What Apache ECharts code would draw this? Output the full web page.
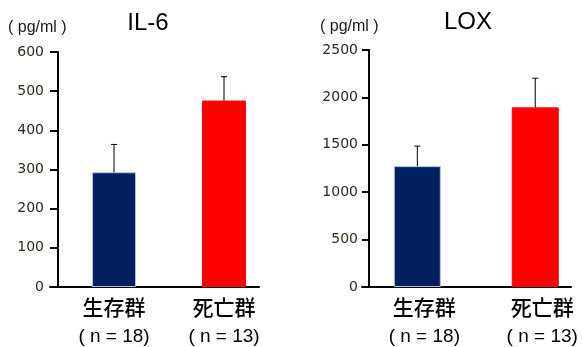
<!DOCTYPE html>
<html>
<head>
<meta charset="utf-8">
<script src="https://cdn.jsdelivr.net/npm/echarts@6/dist/echarts.min.js"></script>
<style>html,body{margin:0;padding:0;background:#fff;}#c{width:583px;height:347px;}</style>
</head>
<body>
<div id="c"></div>
<script>
// ---- data ----
const categories = ['生存群', '死亡群'];
const groupN = ['( n = 18)', '( n = 13)'];
const barColors = ['#002060', '#ff0000'];
const barBorders = ['#b4c2de', '#ff0000'];
const il6Mean = [293, 476];
const il6SD = [71, 61];
const loxMean = [1275, 1895];
const loxSD = [211, 307];
const il6Axis = { max: 600, interval: 100 };
const loxAxis = { max: 2500, interval: 500 };
const titles = ['IL-6', 'LOX'];
const unitLabel = '( pg/ml )';

const chart = echarts.init(document.getElementById('c'), null, { renderer: 'canvas' });

const latin = 'Liberation Sans, Arial, sans-serif';
const cjk = 'Noto Sans CJK JP, sans-serif';

function xAxisCfg(gi, min, max, pad) {
  return {
    gridIndex: gi, type: 'value', min: min, max: max,
    axisLine: { show: true, onZero: false, lineStyle: { color: '#000', width: 2 } },
    axisTick: { show: false },
    splitLine: { show: false },
    axisLabel: {
      customValues: [0, 1],
      margin: 6,
      padding: pad,
      formatter: function (v) {
        const i = Math.round(v);
        return '{a|' + categories[i] + '}\n{b|' + groupN[i] + '}';
      },
      rich: {
        a: { fontFamily: cjk, fontSize: 21, fontWeight: 500, lineHeight: 29, color: '#000' },
        b: { fontFamily: latin, fontSize: 19, lineHeight: 29, color: '#000' }
      }
    }
  };
}
function yAxisCfg(gi, ax, offset, margin, tickLen) {
  return {
    gridIndex: gi, type: 'value', min: 0, max: ax.max, interval: ax.interval,
    offset: offset,
    axisLine: { show: true, onZero: false, lineStyle: { color: '#000', width: 2 } },
    axisTick: { show: true, length: tickLen, lineStyle: { color: '#000', width: 2 } },
    splitLine: { show: false },
    axisLabel: { margin: margin, fontFamily: 'DejaVu Sans, sans-serif', fontSize: 14, color: '#33281c',
      formatter: function (v) { return String(v); } }
  };
}
function barSeries(gi, mean, width) {
  return {
    type: 'bar', xAxisIndex: gi, yAxisIndex: gi, barWidth: width,
    data: mean.map((m, i) => ({ value: [i, m], itemStyle: { color: barColors[i], borderColor: barBorders[i], borderWidth: 1 } })),
    silent: true, animation: false
  };
}
function errSeries(gi, mean, sd) {
  return {
    type: 'custom', xAxisIndex: gi, yAxisIndex: gi, silent: true, animation: false, z: 5,
    data: mean.map((m, i) => [i, m, m + sd[i]]),
    encode: { x: 0, y: [1, 2] },
    renderItem: function (params, api) {
      const p0 = api.coord([api.value(0), api.value(1)]);
      const p1 = api.coord([api.value(0), api.value(2)]);
      const cap = 3;
      return {
        type: 'group',
        children: [
          { type: 'line', shape: { x1: p0[0], y1: p0[1], x2: p1[0], y2: p1[1] }, style: { stroke: '#000', lineWidth: 1 } },
          { type: 'line', shape: { x1: p1[0] - cap, y1: p1[1], x2: p1[0] + cap, y2: p1[1] }, style: { stroke: '#000', lineWidth: 1 } }
        ]
      };
    }
  };
}

chart.setOption({
  animation: false,
  grid: [
    { left: 50, width: 209, top: 52, height: 235 },
    { left: 362, width: 209, top: 50, height: 237 }
  ],
  xAxis: [
    xAxisCfg(0, -0.582, 1.318, [0, 0, 0, 0]),
    xAxisCfg(1, -0.469, 1.303, [0, 0, 0, 14])
  ],
  yAxis: [
    yAxisCfg(0, il6Axis, -8, 14, 8),
    yAxisCfg(1, loxAxis, -7, 11, 7)
  ],
  graphic: [
    { type: 'text', x: 148, y: 23, style: { text: titles[0], font: '24px Liberation Sans, Arial, sans-serif', fill: '#000', textAlign: 'center', textVerticalAlign: 'middle' } },
    { type: 'text', x: 468, y: 22, style: { text: titles[1], font: '24px Liberation Sans, Arial, sans-serif', fill: '#000', textAlign: 'center', textVerticalAlign: 'middle' } },
    { type: 'text', x: 8, y: 28, style: { text: unitLabel, font: '16px Liberation Sans, Arial, sans-serif', fill: '#1a1a1a', textAlign: 'left', textVerticalAlign: 'middle' } },
    { type: 'text', x: 320, y: 27, style: { text: unitLabel, font: '16px Liberation Sans, Arial, sans-serif', fill: '#1a1a1a', textAlign: 'left', textVerticalAlign: 'middle' } }
  ],
  series: [
    barSeries(0, il6Mean, 44),
    errSeries(0, il6Mean, il6SD),
    barSeries(1, loxMean, 47),
    errSeries(1, loxMean, loxSD)
  ]
});
</script>
</body>
</html>
